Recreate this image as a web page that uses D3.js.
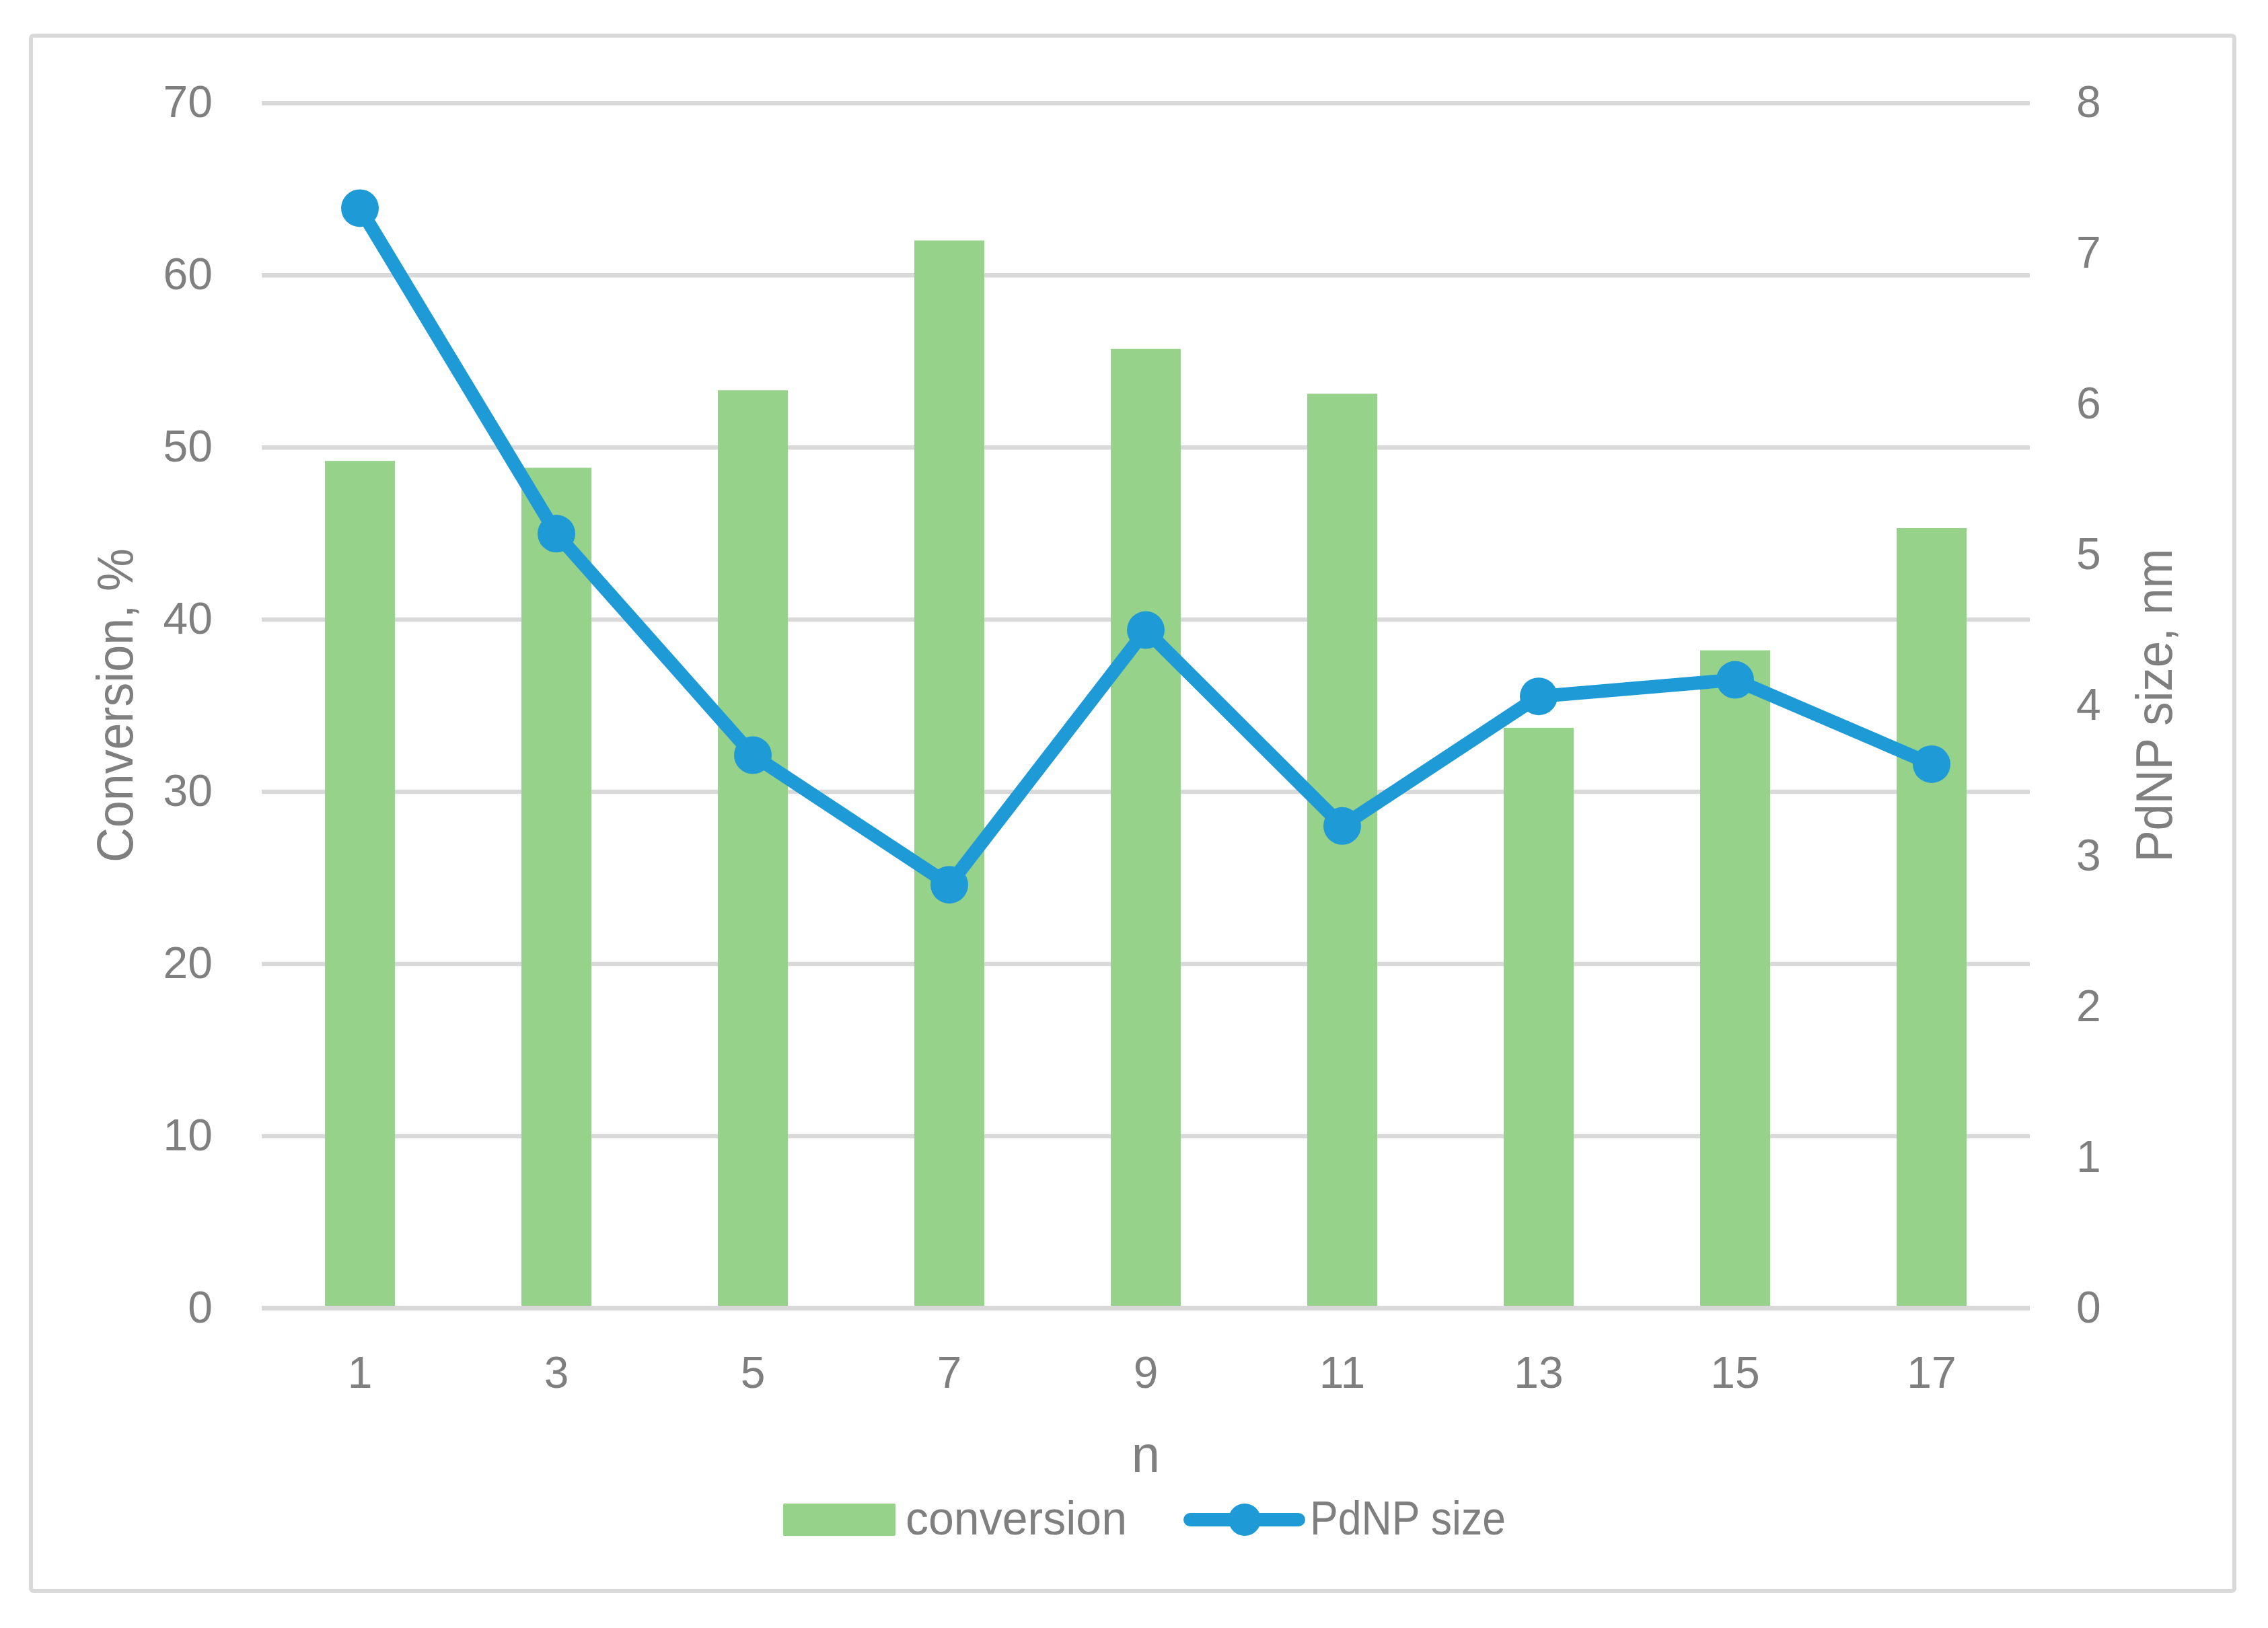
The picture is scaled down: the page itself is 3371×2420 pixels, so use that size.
<!DOCTYPE html>
<html>
<head>
<meta charset="utf-8">
<script src="https://cdn.jsdelivr.net/npm/d3@7"></script>
<style>
  html, body { margin: 0; padding: 0; background: #ffffff; }
  svg { display: block; }
  text { font-family: "Liberation Sans", Arial, sans-serif; fill: #7f7f7f; }
</style>
</head>
<body>
<svg id="chart" width="3371" height="2420"></svg>
<script>
// ---- data ----
const categories = ["1", "3", "5", "7", "9", "11", "13", "15", "17"];
const conversion = [49.2, 48.8, 53.3, 62.0, 55.7, 53.1, 33.7, 38.2, 45.3];
const pdnpSize   = [7.30, 5.14, 3.67, 2.81, 4.50, 3.20, 4.06, 4.17, 3.61];
const leftTicks  = [0, 10, 20, 30, 40, 50, 60, 70];
const rightTicks = [0, 1, 2, 3, 4, 5, 6, 7, 8];
const seriesNames = ["conversion", "PdNP size"];
const axisTitles = { x: "n", left: "Conversion, %", right: "PdNP size, nm" };

// ---- layout ----
const W = 3371, H = 2420;
const plot = { left: 389, right: 3017, top: 152.7, bottom: 1944.5 };
const colBar = "#97d28a", colLine = "#1e9bd7", colGrid = "#d9d9d9", colText = "#7f7f7f";

const svg = d3.select("#chart");
svg.append("rect").attr("width", W).attr("height", H).attr("fill", "#fff");

// outer border
svg.append("rect")
  .attr("x", 46).attr("y", 53).attr("width", 3275).attr("height", 2312)
  .attr("rx", 4).attr("fill", "none").attr("stroke", colGrid).attr("stroke-width", 6);

const x = d3.scaleBand().domain(categories)
  .range([plot.left, plot.right]).paddingInner(0.644).paddingOuter(0.322);
const yL = d3.scaleLinear().domain([0, 70]).range([plot.bottom, plot.top]);
const yR = d3.scaleLinear().domain([0, 8]).range([plot.bottom, plot.top]);

// gridlines
const grid = svg.append("g").attr("transform", `translate(${plot.left},0)`)
  .call(d3.axisLeft(yL).tickValues(leftTicks).tickSize(-(plot.right - plot.left)).tickFormat(""));
grid.select(".domain").remove();
grid.selectAll(".tick line").attr("stroke", colGrid).attr("stroke-width", 6.5);

// left axis labels
const axL = svg.append("g").attr("transform", `translate(${plot.left},0)`)
  .call(d3.axisLeft(yL).tickValues(leftTicks).tickSize(0).tickPadding(73));
axL.select(".domain").remove();
axL.selectAll("text").attr("font-size", 66).attr("fill", colText)
  .attr("font-family", "Liberation Sans, Arial, sans-serif");

// right axis labels
const axR = svg.append("g").attr("transform", `translate(${plot.right},0)`)
  .call(d3.axisRight(yR).tickValues(rightTicks).tickSize(0).tickPadding(69));
axR.select(".domain").remove();
axR.selectAll("text").attr("font-size", 66).attr("fill", colText)
  .attr("font-family", "Liberation Sans, Arial, sans-serif");

// bars
svg.append("g").selectAll("rect").data(categories).join("rect")
  .attr("x", d => x(d))
  .attr("y", (d, i) => yL(conversion[i]))
  .attr("width", x.bandwidth())
  .attr("height", (d, i) => yL(0) - yL(conversion[i]))
  .attr("fill", colBar);

// baseline (drawn over bars)
svg.append("line")
  .attr("x1", plot.left).attr("x2", plot.right)
  .attr("y1", yL(0)).attr("y2", yL(0))
  .attr("stroke", colGrid).attr("stroke-width", 7);

// bottom axis labels
const axB = svg.append("g").attr("transform", `translate(0,${plot.bottom})`)
  .call(d3.axisBottom(x).tickSize(0).tickPadding(72));
axB.select(".domain").remove();
axB.selectAll("text").attr("font-size", 66).attr("fill", colText)
  .attr("font-family", "Liberation Sans, Arial, sans-serif");

// line series
const cx = d => x(d) + x.bandwidth() / 2;
const line = d3.line().x((d, i) => cx(categories[i])).y(d => yR(d));
svg.append("path").datum(pdnpSize)
  .attr("d", line).attr("fill", "none")
  .attr("stroke", colLine).attr("stroke-width", 20)
  .attr("stroke-linejoin", "round").attr("stroke-linecap", "round");
svg.append("g").selectAll("circle").data(pdnpSize).join("circle")
  .attr("cx", (d, i) => cx(categories[i]))
  .attr("cy", d => yR(d))
  .attr("r", 28).attr("fill", colLine);

// axis titles
svg.append("text").text(axisTitles.left)
  .attr("transform", `translate(197,${(plot.top + plot.bottom) / 2}) rotate(-90)`)
  .attr("text-anchor", "middle").attr("font-size", 76)
  .attr("textLength", 467).attr("lengthAdjust", "spacingAndGlyphs");
svg.append("text").text(axisTitles.right)
  .attr("transform", `translate(3228,${(plot.top + plot.bottom) / 2}) rotate(-90)`)
  .attr("text-anchor", "middle").attr("font-size", 76)
  .attr("textLength", 466).attr("lengthAdjust", "spacingAndGlyphs");
svg.append("text").text(axisTitles.x)
  .attr("x", (plot.left + plot.right) / 2).attr("y", 2188)
  .attr("text-anchor", "middle").attr("font-size", 76);

// legend
const lg = svg.append("g");
lg.append("rect").attr("x", 1164).attr("y", 2235).attr("width", 167).attr("height", 48)
  .attr("rx", 2).attr("fill", colBar);
lg.append("text").text(seriesNames[0]).attr("x", 1346).attr("y", 2281)
  .attr("font-size", 70).attr("textLength", 329).attr("lengthAdjust", "spacingAndGlyphs");
lg.append("line").attr("x1", 1769).attr("x2", 1930).attr("y1", 2259).attr("y2", 2259)
  .attr("stroke", colLine).attr("stroke-width", 20).attr("stroke-linecap", "round");
lg.append("circle").attr("cx", 1850).attr("cy", 2259).attr("r", 24).attr("fill", colLine);
lg.append("text").text(seriesNames[1]).attr("x", 1947).attr("y", 2281)
  .attr("font-size", 70).attr("textLength", 291).attr("lengthAdjust", "spacingAndGlyphs");
</script>
</body>
</html>
